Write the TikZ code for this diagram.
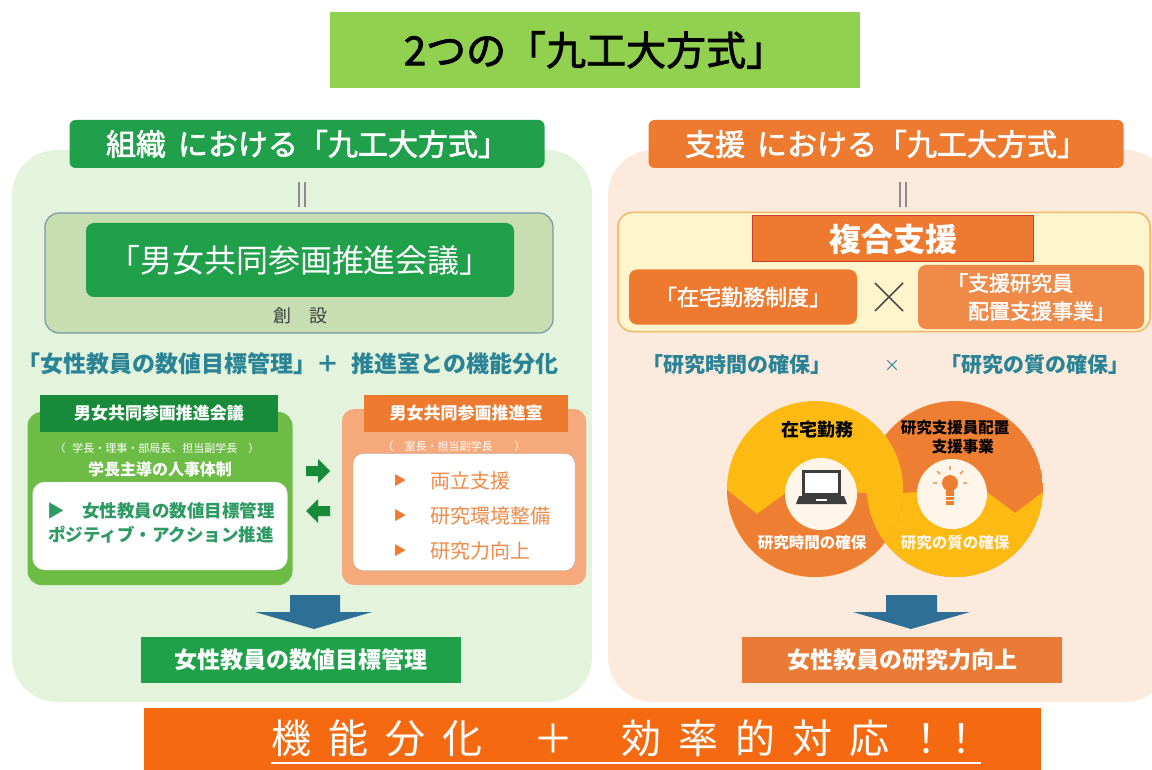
\documentclass[tikz,border=0pt]{standalone}
\usepackage{fontspec}
\setmainfont{Noto Sans CJK JP}
\newfontface\jpmedium{Noto Sans CJK JP}[FakeBold=2]
\usetikzlibrary{positioning}

\definecolor{titlegreen}{HTML}{92D050}
\definecolor{panelgreen}{HTML}{E3F3DC}
\definecolor{panelpeach}{HTML}{FCEADC}
\definecolor{darkgreen}{HTML}{21A04B}
\definecolor{olivebox}{HTML}{C6DEB2}
\definecolor{oliveline}{HTML}{7C97A6}
\definecolor{tealtext}{HTML}{2B8496}
\definecolor{leafgreen}{HTML}{6CBC45}
\definecolor{deepgreen}{HTML}{178B3A}
\definecolor{mintext}{HTML}{2E9A63}
\definecolor{salmon}{HTML}{F6A97A}
\definecolor{tangerine}{HTML}{EE7A30}
\definecolor{softorange}{HTML}{F08A48}
\definecolor{steelarrow}{HTML}{2E6F95}
\definecolor{resultgreen}{HTML}{1FA14A}
\definecolor{resultorange}{HTML}{E97B36}
\definecolor{bannerorange}{HTML}{F56A10}
\definecolor{paleyellow}{HTML}{FFF5CC}
\definecolor{yellowedge}{HTML}{F2B567}
\definecolor{brick}{HTML}{C8402A}
\definecolor{sunyellow}{HTML}{FDBA12}
\definecolor{ringorange}{HTML}{EE7E32}
\definecolor{cream}{HTML}{FFF5E8}
\definecolor{laptopgray}{HTML}{3D3D3D}

\newcommand{\fs}[1]{\fontsize{#1}{#1}\selectfont}
\newcommand{\gap}{\hspace{17pt}}

\begin{document}
\begin{tikzpicture}[x=1pt,y=-1pt,
  plate/.style={inner sep=0pt, text=white},
  heading/.style={plate, fill=#1, rounded corners=6pt, minimum width=475, minimum height=48, font=\jpmedium\fs{30}},
  result/.style={plate, fill=#1, minimum width=320, minimum height=46, font=\fs{23}\bfseries},
  teal/.style={text=tealtext, font=\fs{21}\bfseries}]
		\useasboundingbox (0,0) rectangle (1152,770);
		
		% title bar
		\node[fill=titlegreen, minimum width=530, minimum height=76, inner sep=0pt, font=\jpmedium\fs{40}] (title) at (595,50) {2つの「九工大方式」};
		
		% the two panels
		\fill[panelgreen, rounded corners=45pt] (12,150) rectangle (592,702);
		\fill[panelpeach, rounded corners=45pt] (608,150) rectangle (1170,702);
		
		% LEFT: organisation
		\begin{scope}
			\node[heading=darkgreen] (orghead) at (307,144) {組織\hspace{0.4em}における「九工大方式」};
			\draw[black!45, line width=1.2pt] (299,182) -- (299,207) (305,182) -- (305,207);
			\node[fill=olivebox, draw=oliveline, line width=1.2pt, rounded corners=14pt, minimum width=508, minimum height=120] (foundbox) at (299,273) {};
			\node[plate, fill=darkgreen, rounded corners=8pt, minimum width=428, minimum height=74, font=\fs{32}] (council) at (300,260) {「男女共同参画推進会議」};
			\node[text=black!75, font=\fs{18}] (found) at (300,316) {創\hspace{1em}設};
			\node[teal, font=\fs{23}\bfseries] (orgline) at (288,364) {「女性教員の数値目標管理」＋\hspace{0.5em}推進室との機能分化};
			
			% council box
			\node[fill=leafgreen, rounded corners=14pt, minimum width=265, minimum height=173] (councilbody) at (160,498.5) {};
			\node[plate, fill=deepgreen, minimum width=238, minimum height=37, font=\fs{17}\bfseries] (councilhead) at (159,413) {男女共同参画推進会議};
			\node[text=white, font=\fs{11}] (councilmembers) at (157,448) {（\hspace{0.6em}学長・理事・部局長、担当副学長\hspace{1em}）};
			\node[text=white, font=\fs{16}\bfseries] (councilrole) at (160,469) {学長主導の人事体制};
			\node[fill=white, draw=black!20, rounded corners=12pt, minimum width=255, minimum height=88] (councilcard) at (160,526) {};
			\node[text=mintext, font=\fontsize{17.5}{24}\selectfont\bfseries, align=center] (councilitems) at (161,523) {▶\hspace{1em}女性教員の数値目標管理\\ポジティブ・アクション推進};
			
			% two-way arrows
			\fill[deepgreen] (306,466) -- (318,466) -- (318,459) -- (330,471) -- (318,483) -- (318,476) -- (306,476) -- cycle;
			\fill[deepgreen] (330,506) -- (318,506) -- (318,499) -- (306,511) -- (318,523) -- (318,516) -- (330,516) -- cycle;
			
			% office box
			\node[fill=salmon, rounded corners=12pt, minimum width=244, minimum height=176] (officebody) at (464,497) {};
			\node[plate, fill=tangerine, minimum width=204, minimum height=37, font=\fs{17}\bfseries] (officehead) at (466,413) {男女共同参画推進室};
			\node[text=white, font=\fs{11}] (officemembers) at (454,446) {（\hspace{1em}室長・担当副学長\hspace{2em}）};
			\node[fill=white, draw=black!35, rounded corners=10pt, minimum width=222, minimum height=117] (officecard) at (464,512) {};
			\foreach \task [count=\i] in {両立支援,研究環境整備,研究力向上} {
				\node[text=tangerine, font=\fs{13}] (mark\i) at (400,446+35*\i) {▶};
				\node[anchor=west, inner sep=0pt, text=softorange, font=\fs{20}] (task\i) at (430,446+35*\i) {\task};
			}
			
			\fill[steelarrow] (290,595) -- (340,595) -- (340,612) -- (372,612) -- (314,629) -- (255,612) -- (290,612) -- cycle;
			\node[result=resultgreen] (orgresult) at (301,660) {女性教員の数値目標管理};
		\end{scope}
		
		% RIGHT: support
		\begin{scope}
			\node[heading=tangerine] (supporthead) at (886,144) {支援\hspace{0.4em}における「九工大方式」};
			\draw[black!45, line width=1.2pt] (900,182) -- (900,207) (906,182) -- (906,207);
			\node[fill=paleyellow, draw=yellowedge, line width=1.5pt, rounded corners=14pt, minimum width=532, minimum height=119] (supportbox) at (884,272) {};
			\node[plate, fill=tangerine, draw=brick, line width=1pt, minimum width=281, minimum height=46, font=\fs{32}\bfseries] (combined) at (893,239) {複合支援};
			\node[plate, fill=tangerine, rounded corners=8pt, minimum width=228, minimum height=55, font=\jpmedium\fs{22}] (homework) at (743,297) {「在宅勤務制度」};
			\draw[black!70, line width=1.5pt] (875,283) -- (903,311) (875,311) -- (903,283);
			\node[plate, fill=softorange, rounded corners=8pt, minimum width=226, minimum height=64, font=\jpmedium\fontsize{21}{28}\selectfont, align=left] (assistant) at (1031,297) {「支援研究員\\\hspace{1em}配置支援事業」};
			
			\node[teal] (timeline) at (737,365) {「研究時間の確保」};
			\node[text=tealtext, font=\fs{16}] (crossmark) at (892,366) {×};
			\node[teal] (qualityline) at (1035,365) {「研究の質の確保」};
			
			% interlocked rings
			\begin{scope}
				\clip (955,489) circle (88);
				\fill[ringorange] (955,489) circle (88);
				\fill[sunyellow] (1070,480) -- (1043,492) -- (1015,513) -- (983,489) -- (860,495) -- (860,600) -- (1070,600) -- cycle;
			\end{scope}
			\begin{scope}
				\clip (815,489) circle (88);
				\fill[sunyellow] (815,489) circle (88);
				\fill[ringorange] (700,480) -- (727,490) -- (757,514) -- (790,490) -- (910,495) -- (910,600) -- (700,600) -- cycle;
				\fill[sunyellow] (955,489) circle (88);
			\end{scope}
			\fill[cream] (821,494) circle (36);
			\fill[cream] (952,494) circle (35);
			
			% laptop
			\fill[laptopgray] (802,470) rectangle (841,496);
			\fill[white] (805,473) rectangle (838,493);
			\fill[laptopgray] (799,496) -- (844,496) -- (847,504) -- (796,504) -- cycle;
			\fill[white] (816,499) rectangle (827,501);
			
			% light bulb
			\fill[ringorange] (950,483) circle (8);
			\fill[ringorange] (946,487) rectangle (954,505);
			\draw[white, line width=0.8pt] (946,496) -- (954,496) (946,500) -- (954,500);
			\draw[ringorange, line width=1.3pt] (950,466) -- (950,470) (937,471) -- (940,474) (963,471) -- (960,474) (933,483) -- (937,483) (967,483) -- (963,483);
			
			\node[font=\fs{18}\bfseries] (homelabel) at (817,430) {在宅勤務};
			\node[font=\fontsize{15.5}{19}\selectfont\bfseries, align=center] (assistlabel) at (955,437) {研究支援員配置\\\hspace{1em}支援事業};
			\node[text=white, font=\fs{15.5}\bfseries] (timelabel) at (812,543) {研究時間の確保};
			\node[text=cream, font=\fs{15.5}\bfseries] (qualitylabel) at (955,543) {研究の質の確保};
			
			\fill[steelarrow] (886,595) -- (937,595) -- (937,612) -- (970,612) -- (911,629) -- (853,612) -- (886,612) -- cycle;
			\node[result=resultorange] (supportresult) at (902,660) {女性教員の研究力向上};
		\end{scope}
		
		% closing banner
		\node[fill=bannerorange, minimum width=897, minimum height=70, inner sep=0pt] (banner) at (592,743) {};
		\node[text=white, font=\fs{40}, inner sep=0pt] (slogan) at (626,738) {機\gap 能\gap 分\gap 化\hspace{51pt}＋\hspace{48pt}効\gap 率\gap 的\gap 対\gap 応\gap ！\hspace{-5pt}！};
		\draw[white, line width=1.8pt] ([yshift=-6pt]slogan.south west) -- ([yshift=-6pt]slogan.south east);
	\end{tikzpicture}
\end{document}
